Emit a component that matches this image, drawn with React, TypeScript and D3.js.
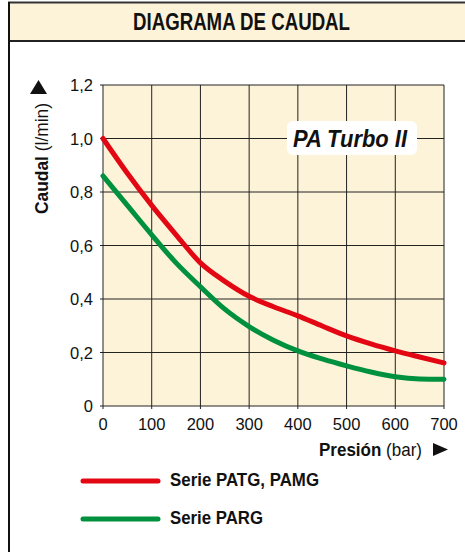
import React from "react";
import * as d3 from "d3";

const pressure = [0, 50, 100, 150, 200, 250, 300, 350, 400, 450, 500, 550, 600, 650, 700];
const seriePATG = [1.0, 0.87, 0.75, 0.64, 0.535, 0.466, 0.41, 0.371, 0.337, 0.299, 0.262, 0.232, 0.206, 0.183, 0.161];
const seriePARG = [0.86, 0.75, 0.64, 0.535, 0.446, 0.362, 0.297, 0.246, 0.206, 0.176, 0.15, 0.127, 0.109, 0.101, 0.1];
const xTicks = [0, 100, 200, 300, 400, 500, 600, 700];
const yTicks = [0, 0.2, 0.4, 0.6, 0.8, 1.0, 1.2];
const seriesNames = ["Serie PATG, PAMG", "Serie PARG"];
const legendWidths = [149, 93];

const W = 465;
const H = 552;
const RED = "#e30613";
const GREEN = "#00913f";
const CREAM = "#fdf3d8";
const NARROW = "'Liberation Sans Narrow', 'Arial Narrow', 'Liberation Sans', sans-serif";
const SANS = "'Liberation Sans', Arial, Helvetica, sans-serif";

export default function App() {
  const x = d3.scaleLinear().domain([0, 700]).range([103, 444]);
  const y = d3.scaleLinear().domain([0, 1.2]).range([406, 85]);
  const line = d3
    .line<number>()
    .x((_, i) => x(pressure[i]))
    .y((d) => y(d))
    .curve(d3.curveMonotoneX);
  const fmt = (v: number) => (v === 0 ? "0" : v.toFixed(1).replace(".", ","));

  return (
    <svg
      width={W}
      height={H}
      style={{ position: "absolute", left: 0, top: 0, background: "#fff" }}
    >
      {/* header band */}
      <rect x={9} y={2} width={W - 9} height={39} fill={CREAM} />
      <line x1={8} x2={W} y1={2.5} y2={2.5} stroke="#333" strokeWidth={2} />
      <line x1={8} x2={W} y1={41} y2={41} stroke="#222" strokeWidth={2} />
      <line x1={9} x2={9} y1={2} y2={H} stroke="#111" strokeWidth={2} />
      <text
        x={133}
        y={30}
        fontFamily={NARROW}
        fontWeight="bold"
        fontSize={23}
        textLength={217}
        lengthAdjust="spacingAndGlyphs"
        fill="#111"
      >
        DIAGRAMA DE CAUDAL
      </text>

      {/* plot background */}
      <rect x={x(0)} y={y(1.2)} width={x(700) - x(0)} height={y(0) - y(1.2)} fill={CREAM} />

      {/* grid */}
      {xTicks.map((t) => (
        <g key={"gx" + t}>
          <line x1={x(t)} x2={x(t)} y1={y(1.2)} y2={y(0) + 3} stroke="#222" strokeWidth={1} />
          <text
            x={x(t)}
            y={430}
            textAnchor="middle"
            fontFamily={SANS}
            fontSize={16.5}
            fill="#111"
          >
            {t}
          </text>
        </g>
      ))}
      {yTicks.map((t) => (
        <g key={"gy" + t}>
          <line x1={x(0) - 3} x2={x(700)} y1={y(t)} y2={y(t)} stroke="#222" strokeWidth={1} />
          <text
            x={93}
            y={y(t) + 6}
            textAnchor="end"
            fontFamily={SANS}
            fontSize={16.5}
            fill="#111"
          >
            {fmt(t)}
          </text>
        </g>
      ))}

      {/* series */}
      <path d={line(seriePARG) || ""} fill="none" stroke={GREEN} strokeWidth={5} strokeLinecap="round" strokeLinejoin="round" />
      <path d={line(seriePATG) || ""} fill="none" stroke={RED} strokeWidth={5} strokeLinecap="round" strokeLinejoin="round" />

      {/* PA Turbo II label */}
      <rect x={287} y={121} width={130} height={34} rx={6} fill="#fff" />
      <text
        x={293}
        y={147}
        fontFamily={SANS}
        fontWeight="bold"
        fontStyle="italic"
        fontSize={23}
        textLength={114}
        lengthAdjust="spacingAndGlyphs"
        fill="#111"
      >
        PA Turbo II
      </text>

      {/* y axis title */}
      <g transform="translate(48, 214) rotate(-90)">
        <text
          x={0}
          y={0}
          fontFamily={NARROW}
          fontSize={18}
          textLength={111}
          lengthAdjust="spacingAndGlyphs"
          fill="#111"
        >
          <tspan fontWeight="bold">Caudal</tspan>
          <tspan> (l/min)</tspan>
        </text>
        <path d="M120,-18 L134,-9.5 L120,-1 Z" fill="#111" />
      </g>

      {/* x axis title */}
      <text
        x={319}
        y={456}
        fontFamily={NARROW}
        fontSize={18}
        textLength={103}
        lengthAdjust="spacingAndGlyphs"
        fill="#111"
      >
        <tspan fontWeight="bold">Presión</tspan>
        <tspan> (bar)</tspan>
      </text>
      <path d="M433,443 L448,449.5 L433,456 Z" fill="#111" />

      {/* legend */}
      {seriesNames.map((name, i) => (
        <g key={name} transform={`translate(0, ${481 + i * 38})`}>
          <line x1={83} x2={158} y1={0} y2={0} stroke={i === 0 ? RED : GREEN} strokeWidth={5} strokeLinecap="round" />
          <text
            x={170}
            y={5}
            fontFamily={NARROW}
            fontWeight="bold"
            fontSize={18.5}
            textLength={legendWidths[i]}
            lengthAdjust="spacingAndGlyphs"
            fill="#111"
          >
            {name}
          </text>
        </g>
      ))}
    </svg>
  );
}
